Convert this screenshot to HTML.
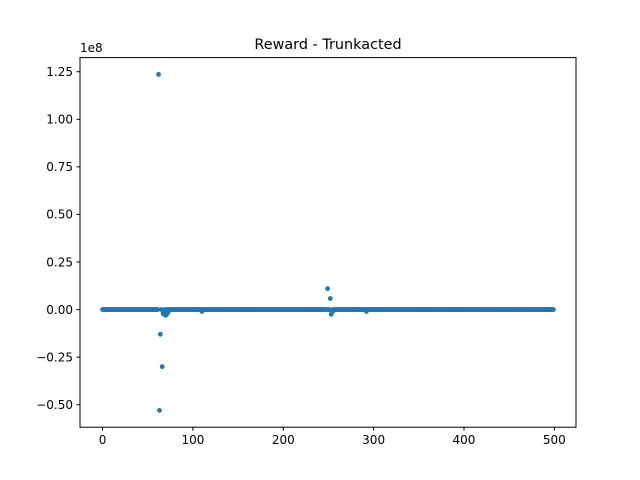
<!DOCTYPE html>
<html><head><meta charset="utf-8"><style>
body{margin:0;background:#fff}
svg{display:block;font-family:"DejaVu Sans","Liberation Sans",sans-serif}
</style></head><body>
<svg id="chart" width="640" height="480" xmlns="http://www.w3.org/2000/svg">
<text x="328" y="49" text-anchor="middle" font-size="14.4">Reward - Trunkacted</text>
<text x="80" y="52" font-size="12">1e8</text>
<g id="marks"></g>
<rect x="80" y="57.6" width="496" height="369.6" fill="none" stroke="#000" stroke-width="1"/>
<g id="axes"></g>
</svg>
<script>
const rewards = [
0,0,0,0,0,0,0,0,0,0,0,0,0,0,0,0,0,0,0,0,0,0,0,0,0,0,0,0,0,0,0,0,0,0,0,0,0,0,0,0,0,0,0,0,0,0,0,0,0,0,
0,0,0,0,0,0,0,0,0,0,0,0,1.236,-0.53,-0.13,0,-0.30,-0.02,-0.025,0,-0.03,0,-0.02,0,-0.005,0,0,0,0,0,0,0,0,0,0,0,0,0,0,0,0,0,0,0,0,0,0,0,0,0,
0,0,0,0,0,0,0,0,0,0,-0.01,0,0,0,0,0,0,0,0,0,0,0,0,0,0,0,0,0,0,0,0,0,0,0,0,0,0,0,0,0,0,0,0,0,0,0,0,0,0,0,
0,0,0,0,0,0,0,0,0,0,0,0,0,0,0,0,0,0,0,0,0,0,0,0,0,0,0,0,0,0,0,0,0,0,0,0,0,0,0,0,0,0,0,0,0,0,0,0,0,0,
0,0,0,0,0,0,0,0,0,0,0,0,0,0,0,0,0,0,0,0,0,0,0,0,0,0,0,0,0,0,0,0,0,0,0,0,0,0,0,0,0,0,0,0,0,0,0,0,0,0.11,
0,0,0.058,-0.025,-0.01,0,-0.005,0,0,0,0,0,0,0,0,0,0,0,0,0,0,0,0,0,0,0,0,0,0,0,0,0,0,0,0,0,0,0,0,0,0,0,-0.01,0,0,0,0,0,0,0,
0,0,0,0,0,0,0,0,0,0,0,0,0,0,0,0,0,0,0,0,0,0,0,0,0,0,0,0,0,0,0,0,0,0,0,0,0,0,0,0,0,0,0,0,0,0,0,0,0,0,
0,0,0,0,0,0,0,0,0,0,0,0,0,0,0,0,0,0,0,0,0,0,0,0,0,0,0,0,0,0,0,0,0,0,0,0,0,0,0,0,0,0,0,0,0,0,0,0,0,0,
0,0,0,0,0,0,0,0,0,0,0,0,0,0,0,0,0,0,0,0,0,0,0,0,0,0,0,0,0,0,0,0,0,0,0,0,0,0,0,0,0,0,0,0,0,0,0,0,0,0,
0,0,0,0,0,0,0,0,0,0,0,0,0,0,0,0,0,0,0,0,0,0,0,0,0,0,0,0,0,0,0,0,0,0,0,0,0,0,0,0,0,0,0,0,0,0,0,0,0,0
];
const xTicks = [0,100,200,300,400,500];
const yTicks = [-0.5,-0.25,0,0.25,0.5,0.75,1.0,1.25];
const yTickLabels = ["\u22120.50","\u22120.25","0.00","0.25","0.50","0.75","1.00","1.25"];

const NS="http://www.w3.org/2000/svg";
const L=80,R=576,T=57.6,B=427.2;
const n=rewards.length;
const xm=(n-1)*0.05;
const xmin=-xm,xmax=n-1+xm;
let ymax=Math.max(...rewards),ymin=Math.min(...rewards);
const ym=(ymax-ymin)*0.05; ymax+=ym; ymin-=ym;
const sx=v=>L+(v-xmin)/(xmax-xmin)*(R-L);
const sy=v=>B-(v-ymin)/(ymax-ymin)*(B-T);
const marks=document.getElementById('marks');
rewards.forEach((v,i)=>{
  const c=document.createElementNS(NS,'circle');
  c.setAttribute('cx',sx(i));c.setAttribute('cy',sy(v));c.setAttribute('r',2.4);
  c.setAttribute('fill','#1f77b4');
  
  
  marks.appendChild(c);
});
const axes=document.getElementById('axes');
xTicks.forEach(t=>{
  const x=sx(t);
  const l=document.createElementNS(NS,'line');
  l.setAttribute('x1',x);l.setAttribute('x2',x);l.setAttribute('y1',B);l.setAttribute('y2',B+3.5);l.setAttribute('stroke','#000');
  
  
  axes.appendChild(l);
  const tx=document.createElementNS(NS,'text');
  tx.setAttribute('x',x);tx.setAttribute('y',B+17);tx.setAttribute('text-anchor','middle');tx.setAttribute('font-size','12');
  tx.textContent=t;
  
  
  axes.appendChild(tx);
});
yTicks.forEach((t,i)=>{
  const y=sy(t);
  const l=document.createElementNS(NS,'line');
  l.setAttribute('x1',L-3.5);l.setAttribute('x2',L);l.setAttribute('y1',y);l.setAttribute('y2',y);l.setAttribute('stroke','#000');
  
  
  axes.appendChild(l);
  const tx=document.createElementNS(NS,'text');
  tx.setAttribute('x',L-7);tx.setAttribute('y',y+4.3);tx.setAttribute('text-anchor','end');tx.setAttribute('font-size','12');
  tx.textContent=yTickLabels[i];
  
  
  axes.appendChild(tx);
});
</script>
</body></html>
